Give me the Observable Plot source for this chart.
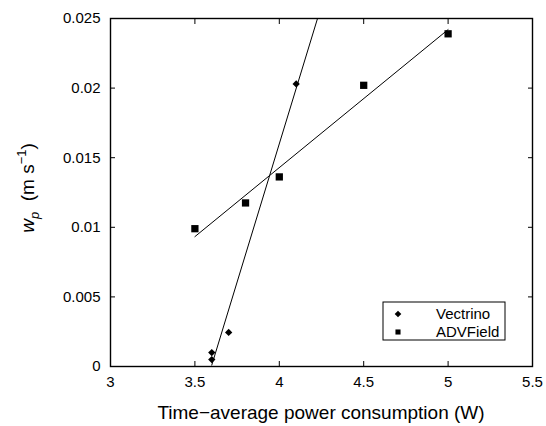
<!DOCTYPE html>
<html>
<head>
<meta charset="utf-8">
<script src="https://cdn.jsdelivr.net/npm/d3@7"></script>
<script src="https://cdn.jsdelivr.net/npm/@observablehq/plot@0.6"></script>
<style>
  html, body { margin: 0; padding: 0; background: #fff; }
  #chart { width: 546px; height: 426px; }
</style>
</head>
<body>
<div id="chart"></div>
<script>
// Data
const vectrinoX = [3.6, 3.6, 3.7, 4.1];
const vectrinoY = [0.0005, 0.001, 0.00245, 0.0203];
const advX = [3.5, 3.8, 4.0, 4.5, 5.0];
const advY = [0.0099, 0.01175, 0.01362, 0.0202, 0.0239];
const xTicks = [3, 3.5, 4, 4.5, 5, 5.5];
const yTicks = [0, 0.005, 0.01, 0.015, 0.02, 0.025];
const xDomain = [3, 5.5];
const yDomain = [0, 0.025];
const seriesNames = ["Vectrino", "ADVField"];
const xLabel = "Time\u2212average power consumption (W)";

const vectrino = vectrinoX.map((x, i) => ({x, y: vectrinoY[i]}));
const adv = advX.map((x, i) => ({x, y: advY[i]}));

// least-squares fits
function fit(xs, ys) {
  const mx = d3.mean(xs), my = d3.mean(ys);
  const sxy = d3.sum(xs, (x, i) => (x - mx) * (ys[i] - my));
  const sxx = d3.sum(xs, x => (x - mx) ** 2);
  const b = sxy / sxx;
  return {b, a: my - b * mx};
}
const fv = fit(vectrinoX, vectrinoY);
const fa = fit(advX, advY);
const vLine = [d3.min(vectrinoX), (yDomain[1] - fv.a) / fv.b].map(x => ({x, y: fv.a + fv.b * x}));
const aLine = [d3.min(advX), d3.max(advX)].map(x => ({x, y: fa.a + fa.b * x}));

const font = "'Liberation Sans', Arial, Helvetica, sans-serif";
const fmt = d => String(d);

const plot = Plot.plot({
  width: 546,
  height: 426,
  marginLeft: 110,
  marginRight: 14,
  marginTop: 18,
  marginBottom: 60,
  style: {fontFamily: font, fontSize: "15px", color: "#000", background: "#fff"},
  x: {domain: xDomain, ticks: xTicks},
  y: {domain: yDomain, ticks: yTicks},
  marks: [
    Plot.line(vLine, {x: "x", y: "y", stroke: "#000", strokeWidth: 1, clip: "frame"}),
    Plot.line(aLine, {x: "x", y: "y", stroke: "#000", strokeWidth: 1}),
    Plot.dot(vectrino, {x: "x", y: "y", symbol: "diamond2", r: 3.3, fill: "#000", stroke: "none"}),
    Plot.dot(adv, {x: "x", y: "y", symbol: "square", r: 4.1, fill: "#000", stroke: "none"}),
    Plot.axisX(xTicks, {anchor: "bottom", tickSize: 0, tickPadding: 10, label: null, fontSize: 15, tickFormat: fmt}),
    Plot.axisY(yTicks, {anchor: "left", tickSize: 0, tickPadding: 10, label: null, fontSize: 15, tickFormat: fmt}),
    Plot.axisX(xTicks, {anchor: "bottom", tickSize: -5, text: null, label: null}),
    Plot.axisX(xTicks, {anchor: "top", tickSize: -5, text: null, label: null}),
    Plot.axisY(yTicks, {anchor: "left", tickSize: -5, text: null, label: null}),
    Plot.axisY(yTicks, {anchor: "right", tickSize: -5, text: null, label: null}),
    Plot.frame({stroke: "#000", strokeWidth: 1.4})
  ]
});

const svg = d3.select(plot);

// x label
svg.append("text")
  .attr("x", 321).attr("y", 419)
  .attr("text-anchor", "middle")
  .attr("font-family", font).attr("font-size", 19)
  .attr("fill", "#000")
  .text(xLabel);

// y label with sub/superscripts
const yl = svg.append("text")
  .attr("transform", "translate(34,188) rotate(-90)")
  .attr("text-anchor", "middle")
  .attr("font-family", font).attr("font-size", 19)
  .attr("fill", "#000");
yl.append("tspan").attr("font-style", "italic").text("w");
yl.append("tspan").attr("font-style", "italic").attr("font-size", 13).attr("dy", 5).text("p");
yl.append("tspan").attr("dy", -5).text("\u00a0\u00a0(m s");
yl.append("tspan").attr("font-size", 13).attr("dy", -8).text("\u22121");
yl.append("tspan").attr("dy", 8).text(")");

// legend
const lg = svg.append("g");
lg.append("rect").attr("x", 383).attr("y", 302).attr("width", 122).attr("height", 38)
  .attr("fill", "#fff").attr("stroke", "#000").attr("stroke-width", 1);
const sym = [d3.symbolDiamond2, d3.symbolSquare];
const sz = [28, 26];
seriesNames.forEach((name, i) => {
  const cy = 314 + i * 18;
  lg.append("path").attr("d", d3.symbol(sym[i], sz[i])())
    .attr("transform", `translate(398,${cy})`).attr("fill", "#000");
  lg.append("text").attr("x", 436).attr("y", cy + 5)
    .attr("text-anchor", "start")
    .attr("font-family", font).attr("font-size", 15).attr("fill", "#000").text(name);
});

document.getElementById("chart").appendChild(plot);
</script>
</body>
</html>
